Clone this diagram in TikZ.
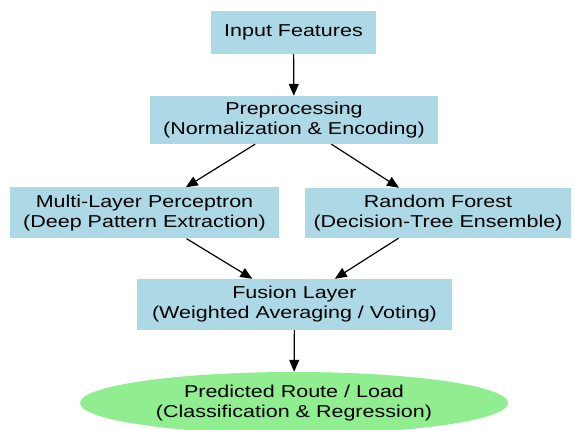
\documentclass[tikz,border=0pt]{standalone}
\usepackage{fontspec}
\setmainfont{Liberation Sans}[FakeStretch=1.25]
\usetikzlibrary{shapes.geometric,arrows.meta}
\definecolor{boxblue}{HTML}{ADD8E6}
\definecolor{ovalgreen}{HTML}{90EE90}
\begin{document}
\begin{tikzpicture}[x=1pt,y=-1pt,
    box/.style={rectangle, fill=boxblue, inner sep=0pt, align=center,
        font=\fontsize{17.2}{20}\selectfont},
    arr/.style={-{Triangle[length=12pt,width=10pt]}, line width=1.2pt}]
    % area della figura
    \clip (0,0) rectangle (574,430);

    % nodi
    \node[box, minimum width=165pt, minimum height=43pt] (inp) at (293.5,32.5) {Input Features};
    \node[box, minimum width=288pt, minimum height=48pt] (pre) at (294,120)
        {Preprocessing\\(Normalization \& Encoding)};
    \node[box, minimum width=269pt, minimum height=51pt] (mlp) at (144.5,213)
        {Multi-Layer Perceptron\\(Deep Pattern Extraction)};
    \node[box, minimum width=266pt, minimum height=50pt] (rf) at (438,213)
        {Random Forest\\(Decision-Tree Ensemble)};
    \node[box, minimum width=315pt, minimum height=51pt] (fus) at (294.5,304.5)
        {Fusion Layer\\(Weighted Averaging / Voting)};
    \node[box, ellipse, fill=ovalgreen, minimum width=428pt, minimum height=62pt] (out) at (294,403)
        {Predicted Route / Load\\(Classification \& Regression)};

    % frecce
    \draw[arr] (inp) -- (pre);
    \draw[arr] (pre) -- (mlp);
    \draw[arr] (pre) -- (rf);
    \draw[arr] (mlp) -- (fus);
    \draw[arr] (rf) -- (fus);
    \draw[arr] (fus) -- (out);
\end{tikzpicture}
\end{document}
